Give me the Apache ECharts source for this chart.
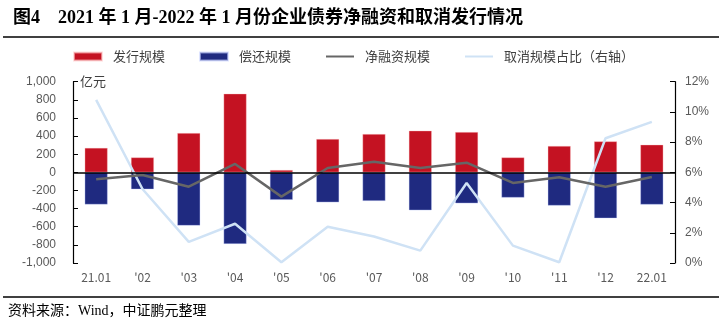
<!DOCTYPE html>
<html><head><meta charset="utf-8">
<script src="https://cdn.jsdelivr.net/npm/echarts@6/dist/echarts.min.js"></script>
<style>html,body{margin:0;padding:0;background:#fff}#c{width:722px;height:328px}</style>
</head><body><div id="c"></div>
<script>
var categories = ["21.01","'02","'03","'04","'05","'06","'07","'08","'09","'10","'11","'12","22.01"];
var issuance = [270, 165, 434, 868, 26, 368, 423, 460, 445, 165, 291, 342, 305];
var repayment = [-355, -187, -588, -790, -304, -331, -316, -419, -342, -279, -367, -507, -356];
var netFinancing = [-77, -29, -158, 93, -268, 48, 118, 48, 107, -117, -55, -158, -51];
var cancelRatio = [10.8, 4.9, 1.4, 2.6, 0.05, 2.4, 1.75, 0.82, 5.3, 1.15, 0.05, 8.26, 9.34];
var leftTicks = [-1000, 1000, 200];
var rightTicks = [0, 12, 2];

var chart = echarts.init(document.getElementById('c'), null, {renderer: 'canvas'});
function fmtNum(v){
  var s = Math.abs(v).toString();
  if (Math.abs(v) >= 1000) s = s.slice(0, s.length-3) + ',' + s.slice(s.length-3);
  return (v < 0 ? '-' : '') + s;
}
var labelColor = '#595959';
chart.setOption({
  animation: false,
  title: {
    text: '图4　2021 年 1 月-2022 年 1 月份企业债券净融资和取消发行情况',
    left: 8, top: 4,
    textStyle: {fontFamily: "'Liberation Serif','Noto Sans CJK SC'", fontWeight: 'bold', fontSize: 18, color: '#000'}
  },
  legend: {
    left: 68, top: 45, itemGap: 34, itemWidth: 28, itemHeight: 8,
    textStyle: {fontSize: 13, color: '#404040', fontFamily: "'Noto Sans CJK SC'", padding: [0,0,0,6]},
    data: [
      {name: '发行规模', icon: 'rect'},
      {name: '偿还规模', icon: 'rect'},
      {name: '净融资规模', itemStyle: {opacity: 0}},
      {name: '取消规模占比（右轴）', itemStyle: {opacity: 0}}
    ]
  },
  grid: {left: 73, right: 47, top: 81.7, bottom: 65},
  xAxis: {
    type: 'category', data: categories, boundaryGap: true,
    axisLine: {show: false}, axisTick: {show: false},
    axisLabel: {color: labelColor, fontSize: 12, margin: 8, interval: 0, fontFamily: "'Noto Sans CJK SC'"}
  },
  yAxis: [
    {
      type: 'value', min: leftTicks[0], max: leftTicks[1], interval: leftTicks[2],
      axisLine: {show: true, lineStyle: {color: '#000', width: 1.2}},
      axisTick: {show: true, inside: true, length: 5, lineStyle: {color: '#000'}},
      splitLine: {show: false},
      axisLabel: {color: labelColor, fontSize: 12, margin: 17, formatter: fmtNum}
    },
    {
      type: 'value', min: rightTicks[0], max: rightTicks[1], interval: rightTicks[2],
      position: 'right',
      axisLine: {show: true, lineStyle: {color: '#000', width: 1.2}},
      axisTick: {show: true, inside: true, length: 5, lineStyle: {color: '#000'}},
      splitLine: {show: false},
      axisLabel: {color: labelColor, fontSize: 12, margin: 10, formatter: '{value}%'}
    }
  ],
  series: [
    {
      name: '发行规模', type: 'bar', stack: 'b', data: issuance, barWidth: 23,
      itemStyle: {color: '#C41222', borderColor: 'rgba(255,200,200,0.6)', borderWidth: 0.6}
    },
    {
      name: '偿还规模', type: 'bar', stack: 'b', data: repayment, barWidth: 23,
      itemStyle: {color: '#1F2A80', borderColor: 'rgba(200,210,255,0.6)', borderWidth: 0.6},
      markLine: {
        silent: true, symbol: ['none','none'], label: {show: false},
        lineStyle: {color: '#000', type: 'solid', width: 1.5},
        data: [{yAxis: 0}]
      }
    },
    {
      name: '取消规模占比（右轴）', type: 'line', yAxisIndex: 1, data: cancelRatio,
      symbol: 'none', lineStyle: {color: '#CFE2F5', width: 2.5}, itemStyle: {color: '#CFE2F5'}, z: 3
    },
    {
      name: '净融资规模', type: 'line', data: netFinancing,
      symbol: 'none', lineStyle: {color: '#666666', width: 2.5}, itemStyle: {color: '#666666'}, z: 4
    }
  ],
  graphic: [
    {type: 'line', shape: {x1: 3, y1: 37, x2: 719, y2: 37}, style: {stroke: '#000', lineWidth: 1.5}},
    {type: 'line', shape: {x1: 3, y1: 297, x2: 719, y2: 297}, style: {stroke: '#000', lineWidth: 1.5}},
    {type: 'text', left: 80, top: 75, style: {text: '亿元', fontSize: 13, fill: '#404040', fontFamily: "'Noto Sans CJK SC'"}},
    {type: 'text', left: 8, top: 304, style: {text: '资料来源：Wind，中证鹏元整理', fontSize: 14, fill: '#000', fontFamily: "'Liberation Serif','Noto Sans CJK SC'"}}
  ]
});
</script>
</body></html>
